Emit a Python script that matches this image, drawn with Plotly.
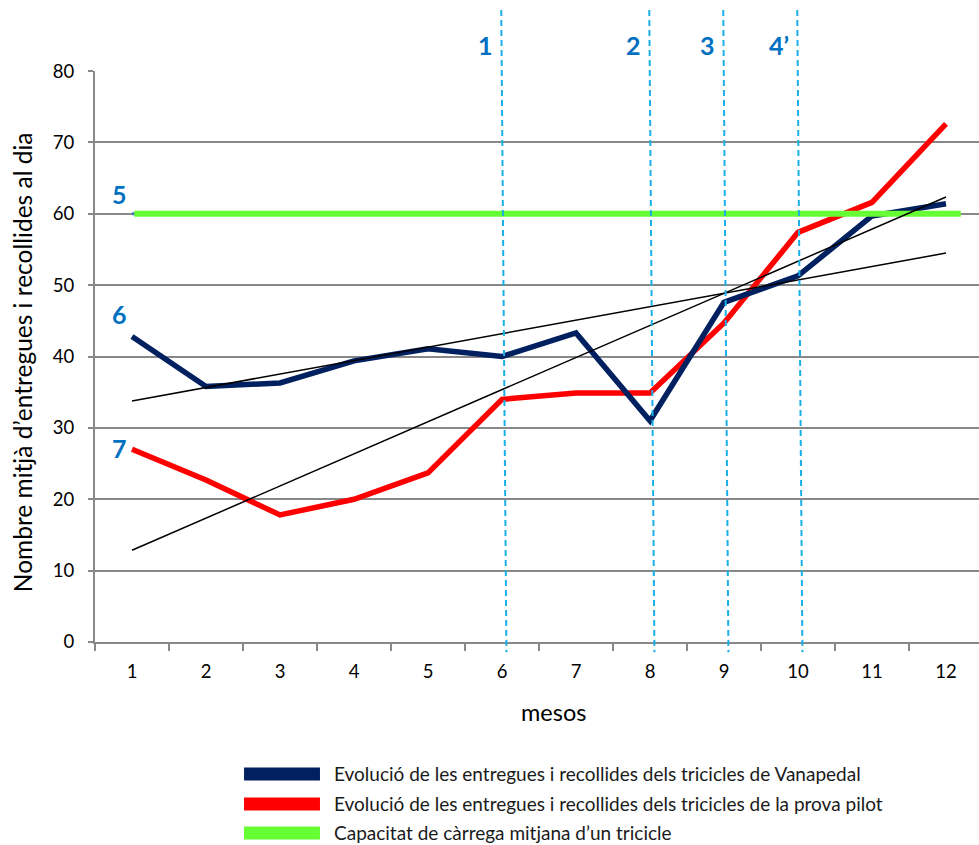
import numpy as np
import plotly.graph_objects as go

# Months and monthly averages of deliveries + pickups per day
months = list(range(1, 13))
vanapedal = [42.8, 35.8, 36.3, 39.4, 41.1, 40.0, 43.3, 31.0, 47.6, 51.3, 59.7, 61.4]
pilot = [27.0, 22.7, 17.8, 20.0, 23.7, 34.0, 34.9, 34.9, 44.7, 57.4, 61.6, 72.6]
capacity = 60

# Milestones marked by dashed vertical lines
event_months = [6, 8, 9, 10]
event_labels = ["1", "2", "3", "4\u2019"]

names = [
    "Evolució de les entregues i recollides dels tricicles de Vanapedal",
    "Evolució de les entregues i recollides dels tricicles de la prova pilot",
    "Capacitat de càrrega mitjana d\u2019un tricicle",
]

NAVY = "#002060"
RED = "#FF0000"
GREEN = "#66FF33"
LABEL_BLUE = "#0070C0"
DASH_BLUE = "#1AAFE6"
GRID = "#888888"
FONT = "Lato"

fig = go.Figure()

# thin reference line under the capacity band
fig.add_trace(go.Scatter(x=[months[0], months[-1]], y=[capacity, capacity], mode="lines",
                         line=dict(color="#4472C4", width=3), showlegend=False, hoverinfo="skip"))
fig.add_trace(go.Scatter(x=months, y=pilot, mode="lines", name=names[1],
                         line=dict(color=RED, width=5.5), showlegend=False))
fig.add_trace(go.Scatter(x=months, y=vanapedal, mode="lines", name=names[0],
                         line=dict(color=NAVY, width=5.5), showlegend=False))
fig.add_trace(go.Scatter(x=[months[0] + 0.03, months[-1] + 0.2], y=[capacity, capacity], mode="lines",
                         name=names[2], line=dict(color=GREEN, width=6), showlegend=False))

# linear trend lines for both series
xm = np.array(months, dtype=float)
for series in (vanapedal, pilot):
    k, b = np.polyfit(xm, np.array(series), 1)
    xe = np.array([xm[0], xm[-1]])
    fig.add_trace(go.Scatter(x=xe, y=k * xe + b, mode="lines",
                             line=dict(color="black", width=1.5), showlegend=False, hoverinfo="skip"))

shapes = []
annotations = []

# dashed milestone lines (slightly slanted) with their labels
for m, lab in zip(event_months, event_labels):
    shapes.append(dict(type="line", xref="x", yref="paper", x0=m - 0.01, x1=m + 0.06,
                       y0=1.107, y1=-0.018, layer="above",
                       line=dict(color=DASH_BLUE, width=2, dash="6px,4px")))
    annotations.append(dict(x=m - 0.09, y=1.046, xref="x", yref="paper", text=f"<b>{lab}</b>",
                            showarrow=False, xanchor="right", yanchor="middle",
                            font=dict(family=FONT, size=25, color=LABEL_BLUE)))

# series labels on the left
for lab, yv in (("5", 62.8), ("6", 45.9), ("7", 27.2)):
    annotations.append(dict(x=0.825, y=yv, xref="x", yref="y", text=f"<b>{lab}</b>",
                            showarrow=False, xanchor="center", yanchor="middle",
                            font=dict(family=FONT, size=25, color=LABEL_BLUE)))

# axis titles
annotations.append(dict(x=-0.0826, y=0.49, xref="paper", yref="paper",
                        text="Nombre mitjà d\u2019entregues i recollides al dia", textangle=-90,
                        showarrow=False, xanchor="center", yanchor="middle",
                        font=dict(family=FONT, size=24.5, color="black")))
annotations.append(dict(x=0.519, y=-0.1226, xref="paper", yref="paper", text="mesos",
                        showarrow=False, xanchor="center", yanchor="middle",
                        font=dict(family=FONT, size=23.5, color="black")))

# legend drawn below the chart
legend_colors = [NAVY, RED, GREEN]
legend_rows = [-0.2310, -0.2836, -0.3345]
for col, name, yr in zip(legend_colors, names, legend_rows):
    shapes.append(dict(type="rect", xref="paper", yref="paper", x0=0.1686, x1=0.2545,
                       y0=yr - 0.0114, y1=yr + 0.0114, fillcolor=col, line=dict(width=0)))
    annotations.append(dict(x=0.268, y=yr, xref="paper", yref="paper", text=name,
                            showarrow=False, xanchor="left", yanchor="middle",
                            font=dict(family=FONT, size=19, color="#1a1a1a")))

fig.update_layout(
    width=979, height=845,
    margin=dict(l=95, r=0, t=71, b=203),
    paper_bgcolor="white", plot_bgcolor="white",
    font=dict(family=FONT, size=19, color="black"),
    shapes=shapes, annotations=annotations,
    showlegend=False,
)
fig.update_xaxes(
    range=[0.5, 0.5 + 884 / 74], tickvals=months, ticktext=[str(m) for m in months],
    ticks="outside", ticklen=12, tickcolor="rgba(0,0,0,0)",
    showline=True, linecolor=GRID, linewidth=2, showgrid=False, zeroline=False,
    minor=dict(ticks="outside", ticklen=7, tickcolor=GRID, tickwidth=2, tick0=0.5, dtick=1, showgrid=False),
    tickfont=dict(family=FONT, size=18.5, color="black"),
)
fig.update_yaxes(
    range=[0, 80.01], tickvals=list(range(0, 81, 10)),
    ticks="outside", ticklen=5, tickcolor=GRID, tickwidth=2, ticklabelstandoff=10,
    showline=True, linecolor=GRID, linewidth=2, showgrid=True, gridcolor=GRID, gridwidth=1.5,
    zeroline=False,
    tickfont=dict(family=FONT, size=18.5, color="black"),
)

fig.write_html("out.html")
